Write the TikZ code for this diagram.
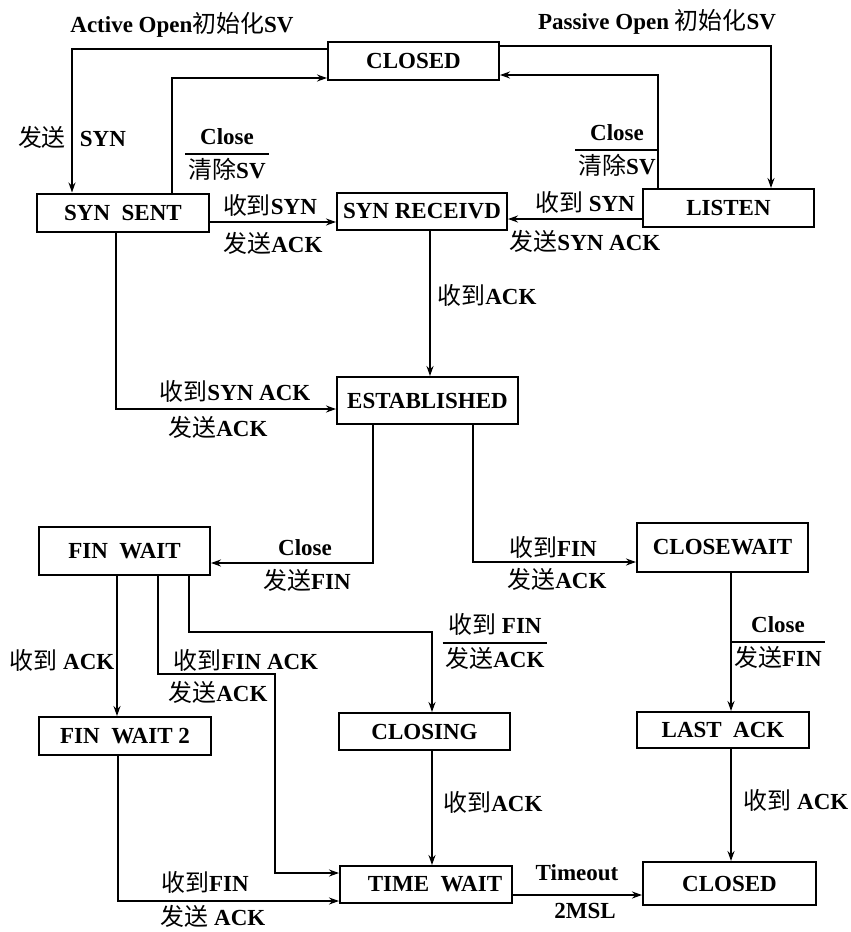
\documentclass[tikz,border=0pt]{standalone}
\usepackage{fontspec}
\setmainfont{Liberation Serif}
\newfontfamily\cjk[Scale=1.04]{Noto Sans CJK SC}
\usetikzlibrary{arrows.meta}
\newcommand\zh[1]{{\cjk\mdseries #1}}
\setlength\arrayrulewidth{1.6pt}
\newcommand\frlab[2]{\begin{tabular}{@{\hspace{3pt}}c@{\hspace{3pt}}}#1\\\hline \rule{0pt}{24pt}#2\end{tabular}}
\begin{document}
\begin{tikzpicture}[x=1pt,y=-1pt,
  every node/.style={font=\fontsize{23}{29}\selectfont\bfseries, inner sep=0pt},
  state/.style={draw, line width=2pt, fill=white},
  link/.style={line width=2.1pt, -{Stealth[length=10pt,width=7pt]}}]
\useasboundingbox (0,0) rectangle (851,932);
\fill[white] (0,0) rectangle (851,932);

% states
\node[state, minimum width=171pt, minimum height=38pt] (CL1) at (413.5,61) {CLOSED};
\node[state, minimum width=172pt, minimum height=38pt] (SS) at (123,212.5) {SYN\hspace{0.5em}SENT};
\node[state, minimum width=170pt, minimum height=37pt] (SR) at (422,211.5) {SYN RECEIVD};
\node[state, minimum width=171pt, minimum height=38pt] (LI) at (728.5,208) {LISTEN};
\node[state, minimum width=181pt, minimum height=47pt] (ES) at (427.5,400.5) {ESTABLISHED};
\node[state, minimum width=171pt, minimum height=48pt] (FW) at (124.5,551) {FIN\hspace{0.5em}WAIT};
\node[state, minimum width=171pt, minimum height=49pt] (CW) at (722.5,547.5) {CLOSEWAIT};
\node[state, minimum width=172pt, minimum height=38pt] (FW2) at (125,736) {FIN\hspace{0.5em}WAIT 2};
\node[state, minimum width=171pt, minimum height=37pt] (CG) at (424.5,731.5) {CLOSING};
\node[state, minimum width=172pt, minimum height=36pt] (LA) at (723,730) {LAST\hspace{0.5em}ACK};
\node[state, minimum width=172pt, minimum height=37pt] (TW) at (426,884.5) {\hspace*{18pt}TIME\hspace{0.5em}WAIT};
\node[state, minimum width=173pt, minimum height=43pt] (CL2) at (729.5,883.5) {CLOSED};

% connectors
\draw[link] (CL1.west |- 0,49) -| (SS.north -| 72,0);
\draw[link] (SS.north -| 172,0) |- (CL1.west |- 0,78);
\draw[link] (CL1.east |- 0,46) -| (LI.north -| 771,0);
\draw[link] (LI.north -| 658,0) |- (CL1.east |- 0,75);
\draw[link] (SS.east |- 0,222) -- (SR.west |- 0,222);
\draw[link] (LI.west |- 0,219) -- (SR.east |- 0,219);
\draw[link] (SR.south -| 430,0) -- (ES.north -| 430,0);
\draw[link] (SS.south -| 116,0) |- (ES.west |- 0,409);
\draw[link] (ES.south -| 373,0) |- (FW.east |- 0,563);
\draw[link] (ES.south -| 473,0) |- (CW.west |- 0,562);
\draw[link] (FW.south -| 117,0) -- (FW2.north -| 117,0);
\draw[link] (FW.south -| 158,0) |- (275,674) |- (TW.west |- 0,873);
\draw[link] (FW.south -| 189,0) |- (432,632) -- (CG.north -| 432,0);
\draw[link] (CG.south -| 432,0) -- (TW.north -| 432,0);
\draw[link] (FW2.south -| 118,0) |- (TW.west |- 0,901);
\draw[link] (CW.south -| 731,0) -- (LA.north -| 731,0);
\draw[link] (LA.south -| 731,0) -- (CL2.north -| 731,0);
\draw[link] (TW.east |- 0,895) -- (CL2.west |- 0,895);

% labels
\node (l1) at (182,25) {Active Open\zh{初始化}SV};
\node (l2) at (657,22) {Passive Open \zh{初始化}SV};
\node (l3) at (72,137) {\zh{发送}\hspace{14pt}SYN};
\node (l5) at (227,156) {\frlab{Close}{\zh{清除}SV}};
\node (l6) at (617,152) {\frlab{Close}{\zh{清除}SV}};
\node (l7) at (270,205) {\zh{收到}SYN};
\node (l8) at (273,243) {\zh{发送}ACK};
\node (l9) at (585,202) {\zh{收到} SYN};
\node (l10) at (585,241) {\zh{发送}SYN ACK};
\node (l11) at (487,295) {\zh{收到}ACK};
\node (l12) at (235,391) {\zh{收到}SYN ACK};
\node (l13) at (218,427) {\zh{发送}ACK};
\node (l14) at (305,548) {Close};
\node (l15) at (307,580) {\zh{发送}FIN};
\node (l16) at (553,547) {\zh{收到}FIN};
\node (l17) at (557,579) {\zh{发送}ACK};
\node (l18) at (495,645) {\frlab{\zh{收到} FIN}{\zh{发送}ACK}};
\node (l19) at (62,660) {\zh{收到} ACK};
\node (l20) at (246,660) {\zh{收到}FIN ACK};
\node (l21) at (218,692) {\zh{发送}ACK};
\node (l22) at (778,644) {\frlab{Close}{\zh{发送}FIN}};
\node (l23) at (493,802) {\zh{收到}ACK};
\node (l24) at (796,800) {\zh{收到} ACK};
\node (l25) at (205,882) {\zh{收到}FIN};
\node (l26) at (213,916) {\zh{发送} ACK};
\node (l27) at (577,873) {Timeout};
\node (l28) at (585,911) {2MSL};
\end{tikzpicture}
\end{document}
